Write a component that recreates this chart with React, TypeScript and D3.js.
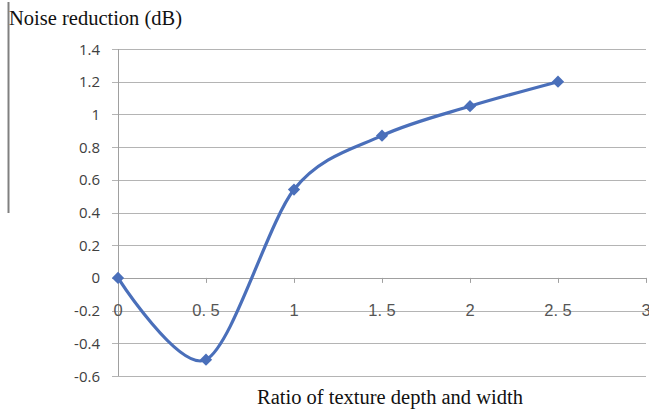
import React from 'react';
import * as d3 from 'd3';

const ratios = [0, 0.5, 1, 1.5, 2, 2.5];
const noiseReduction = [0, -0.5, 0.54, 0.87, 1.05, 1.2];
const yTicks = [-0.6, -0.4, -0.2, 0, 0.2, 0.4, 0.6, 0.8, 1, 1.2, 1.4];
const xTicks = [0, 0.5, 1, 1.5, 2, 2.5, 3];
const xTickLabels = ['0', '0. 5', '1', '1. 5', '2', '2. 5', '3'];

const W = 649;
const H = 420;
const lineColor = '#4a6fba';

export default function App() {
  const x = d3.scaleLinear().domain([0, 3]).range([118, 646]);
  const y = d3.scaleLinear().domain([-0.6, 1.4]).range([376, 49]);

  const pts: [number, number][] = ratios.map((r, i) => [x(r), y(noiseReduction[i])]);
  const line = d3.line().curve(d3.curveCardinal.tension(0.1));
  const path = line(pts) || '';
  // square turned 45deg, like the Excel diamond marker
  const diamond = d3.symbol().type(d3.symbolSquare).size(75)() || '';

  return (
    <svg width={W} height={H} style={{ position: 'absolute', left: 0, top: 0, background: '#fff' }}>
      <rect width={W} height={H} fill="#fff" />
      {/* left bar */}
      <line x1={8.5} x2={8.5} y1={2} y2={213} stroke="#808080" strokeWidth={2} />
      <text x={9} y={25} fontFamily="Liberation Serif, serif" fontSize={20.5} fill="#111">
        Noise reduction (dB)
      </text>

      {/* gridlines */}
      {yTicks.map((t) => (
        <g key={t}>
          <line x1={112} x2={646} y1={Math.round(y(t)) + 0.5} y2={Math.round(y(t)) + 0.5} stroke="#b4b4b4" strokeWidth={1} />
          <text
            x={100}
            y={y(t) + 5.5}
            textAnchor="end"
            fontFamily="Open Sans, DejaVu Sans, sans-serif"
            fontSize={15}
            fill="#404040"
          >
            {String(t)}
          </text>
        </g>
      ))}
      {/* y axis */}
      <line x1={118.5} x2={118.5} y1={49} y2={376} stroke="#a0a0a0" strokeWidth={1} />
      {/* x axis at 0 */}
      <line x1={118} x2={646} y1={Math.round(y(0)) + 0.5} y2={Math.round(y(0)) + 0.5} stroke="#a0a0a0" strokeWidth={1} />
      {xTicks.map((t, i) => (
        <g key={t}>
          <line x1={Math.round(x(t)) + 0.5} x2={Math.round(x(t)) + 0.5} y1={y(0)} y2={y(0) + 5} stroke="#a0a0a0" strokeWidth={1} />
          <text
            x={x(t)}
            y={316}
            textAnchor="middle"
            fontFamily="Liberation Sans, Arial, sans-serif"
            fontSize={16.5}
            fill="#555"
            style={{ whiteSpace: 'pre' }}
          >
            {xTickLabels[i]}
          </text>
        </g>
      ))}

      <path d={path} fill="none" stroke={lineColor} strokeWidth={3.2} strokeLinejoin="round" />
      {pts.map((p, i) => (
        <path key={i} d={diamond} transform={`translate(${p[0]},${p[1]}) rotate(45)`} fill={lineColor} />
      ))}

      <text x={390} y={404} textAnchor="middle" fontFamily="Liberation Serif, serif" fontSize={20.5} fill="#111">
        Ratio of texture depth and width
      </text>
    </svg>
  );
}
